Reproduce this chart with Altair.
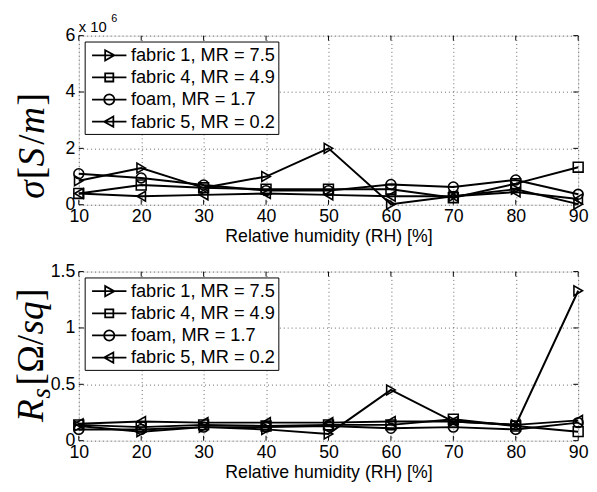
import altair as alt
import pandas as pd

rh = [10, 20, 30, 40, 50, 60, 70, 80, 90]
series = ["fabric 1, MR = 7.5", "fabric 4, MR = 4.9", "foam, MR = 1.7", "fabric 5, MR = 0.2"]

# conductivity sigma, in units of 1e6 S/m
sigma_f1 = [0.85, 1.3, 0.6, 1.0, 2.0, 0.02, 0.3, 0.55, 0.02]
sigma_f4 = [0.4, 0.7, 0.6, 0.55, 0.55, 0.55, 0.25, 0.75, 1.33]
sigma_foam = [1.1, 0.95, 0.7, 0.5, 0.5, 0.72, 0.63, 0.88, 0.37]
sigma_f5 = [0.4, 0.3, 0.35, 0.4, 0.35, 0.3, 0.3, 0.45, 0.2]

# sheet resistance Rs, Ohm/sq
rs_f1 = [0.13, 0.08, 0.12, 0.1, 0.06, 0.45, 0.17, 0.14, 1.33]
rs_f4 = [0.14, 0.12, 0.14, 0.13, 0.14, 0.14, 0.19, 0.13, 0.08]
rs_foam = [0.1, 0.1, 0.12, 0.12, 0.13, 0.11, 0.12, 0.1, 0.16]
rs_f5 = [0.15, 0.17, 0.16, 0.16, 0.16, 0.17, 0.17, 0.14, 0.18]

sigma_ticks = [0, 2, 4, 6]
rs_ticks = [0, 0.5, 1, 1.5]

marker_shapes = ["triangle-right", "square", "circle", "triangle-left"]
L = 1.75   # half length of the legend line (units of 10 px)
m = 0.52   # marker half size
q = m * 0.8
legend_shapes = [
    f"M-{L},0L{L},0M-{q},-{m}L{m},0L-{q},{m}Z",
    f"M-{L},0L{L},0M-{q},-{q}L{q},-{q}L{q},{q}L-{q},{q}Z",
    f"M-{L},0L{L},0M{m},0A{m},{m},0,1,1,-{m},0A{m},{m},0,1,1,{m},0Z",
    f"M-{L},0L{L},0M{q},-{m}L-{m},0L{q},{m}Z",
]

W, H = 508, 172
SANS = "Liberation Sans"
SERIF = "Liberation Serif"


def long_df(vals):
    rows = []
    for s, v in zip(series, vals):
        for x, y in zip(rh, v):
            rows.append({"rh": x, "val": y, "series": s})
    return pd.DataFrame(rows)


def panel(vals, yticks, ydom, title_parts):
    df = long_df(vals)
    xenc = alt.X("rh:Q", scale=alt.Scale(domain=[10, 90], nice=False, zero=False),
                 axis=alt.Axis(values=rh, title="Relative humidity (RH) [%]", grid=True, ticks=False,
                               domain=False, gridDash=[1, 3], gridColor="#555", gridWidth=0.9,
                               labelFont=SANS, labelFontSize=18, labelColor="black", labelPadding=3,
                               titleFont=SANS, titleFontSize=18, titleFontWeight="normal",
                               titleColor="black", titlePadding=2, labelFlush=False))
    yenc = alt.Y("val:Q", scale=alt.Scale(domain=ydom, nice=False, zero=False),
                 axis=alt.Axis(values=yticks, title=None, grid=True, ticks=False, domain=False,
                               format="~g", gridDash=[1, 3], gridColor="#555", gridWidth=0.9,
                               labelFont=SANS, labelFontSize=18, labelColor="black", labelPadding=4,
                               labelFlush=False))
    base = alt.Chart(df)
    lines = base.mark_line(color="black", strokeWidth=2).encode(x=xenc, y=yenc, detail="series:N")
    pts = base.mark_point(filled=False, color="black", strokeWidth=1.6, size=100, opacity=1).encode(
        x=xenc, y=yenc,
        shape=alt.Shape("series:N", scale=alt.Scale(domain=series, range=marker_shapes), legend=None))
    leg = base.transform_filter("datum.rh < 0").mark_point(filled=False, color="black", strokeWidth=1.6, opacity=1).encode(
        x=xenc, y=yenc,
        shape=alt.Shape("series:N", scale=alt.Scale(domain=series, range=legend_shapes),
                        legend=alt.Legend(title=None, orient="none", legendX=6, legendY=6, fillColor="white",
                                          strokeColor="black", padding=3, symbolSize=400,
                                          symbolOffset=11, symbolStrokeWidth=1.8, symbolStrokeColor="black",
                                          labelFont=SANS, labelFontSize=18.5, labelColor="black",
                                          labelOffset=11, labelLimit=400, rowPadding=1.5)))
    xt = alt.Chart(pd.DataFrame({"rh": rh}))
    xt_top = xt.mark_rule(color="black", strokeWidth=1).encode(x=alt.X("rh:Q"), y=alt.value(0), y2=alt.value(5))
    xt_bot = xt.mark_rule(color="black", strokeWidth=1).encode(x=alt.X("rh:Q"), y=alt.value(H - 5), y2=alt.value(H))
    yt = alt.Chart(pd.DataFrame({"val": yticks}))
    yt_l = yt.mark_rule(color="black", strokeWidth=1).encode(y=alt.Y("val:Q"), x=alt.value(0), x2=alt.value(5))
    yt_r = yt.mark_rule(color="black", strokeWidth=1).encode(y=alt.Y("val:Q"), x=alt.value(W - 5), x2=alt.value(W))
    layers = [lines, pts, leg, xt_top, xt_bot, yt_l, yt_r]
    for txt, size, x, y, style in title_parts:
        layers.append(alt.Chart(pd.DataFrame({"t": [txt]})).mark_text(
            angle=270, align="left", baseline="alphabetic", font=SERIF, fontStyle=style,
            fontSize=size, color="black").encode(text="t:N", x=alt.value(x), y=alt.value(y)))
    return alt.layer(*layers).resolve_scale(shape="independent").properties(width=W, height=H)


top = panel([sigma_f1, sigma_f4, sigma_foam, sigma_f5], sigma_ticks, [0, 6],
            [("σ", 38, -35, 166, "italic"), ("[", 38, -35, 146, "normal"),
             ("S", 38, -35, 133, "italic"), ("/", 38, -35, 111, "normal"),
             ("m", 38, -35, 100, "italic"), ("]", 38, -35, 71, "normal")])
exp1 = alt.Chart(pd.DataFrame({"t": ["x 10"]})).mark_text(
    align="left", baseline="alphabetic", font=SANS, fontSize=15, color="black").encode(
    text="t:N", x=alt.value(0), y=alt.value(-4))
exp2 = alt.Chart(pd.DataFrame({"t": ["6"]})).mark_text(
    align="left", baseline="alphabetic", font=SANS, fontSize=11, color="black").encode(
    text="t:N", x=alt.value(33), y=alt.value(-14))
# invisible anchor fixing the chart's top-left bound
anchor = alt.Chart(pd.DataFrame({"t": [0]})).mark_rule(strokeOpacity=0, opacity=0).encode(
    x=alt.value(-71), x2=alt.value(W), y=alt.value(-21))
top = alt.layer(top, exp1, exp2, anchor)

bottom = panel([rs_f1, rs_f4, rs_foam, rs_f5], rs_ticks, [0, 1.5],
               [("R", 38, -36, 153, "italic"), ("s", 27, -29, 129, "italic"),
                ("[", 38, -36, 116, "normal"), ("Ω", 38, -36, 103, "normal"),
                ("/", 38, -36, 75, "normal"), ("sq", 38, -36, 64, "italic"),
                ("]", 38, -36, 30, "normal")])

chart = alt.vconcat(top, bottom, spacing=68, bounds="flush").resolve_scale(shape="independent").properties(
    padding=0,
).configure_view(stroke="black", strokeWidth=1).configure(background="white")

chart.save("out.html", embed_options={"renderer": "svg", "actions": False})
